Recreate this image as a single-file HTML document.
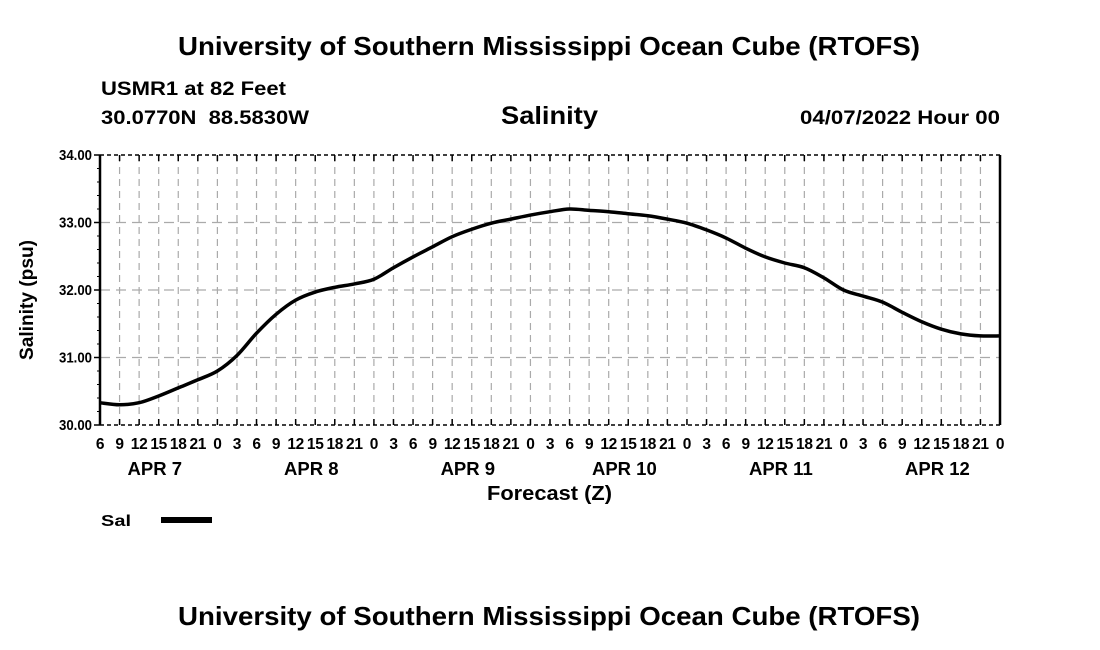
<!DOCTYPE html>
<html><head><meta charset="utf-8"><style>
body{margin:0;background:#fff;width:1100px;height:650px;overflow:hidden}
svg{display:block;font-family:"Liberation Sans",Arial,sans-serif;font-weight:bold}
</style></head><body>
<svg id="chart" width="1100" height="650">
<text x="178" y="55" font-size="26" textLength="742" lengthAdjust="spacingAndGlyphs">University of Southern Mississippi Ocean Cube (RTOFS)</text>
<text x="101" y="95" font-size="19" textLength="185" lengthAdjust="spacingAndGlyphs">USMR1 at 82 Feet</text>
<text x="101" y="124" font-size="19" textLength="208" lengthAdjust="spacingAndGlyphs" xml:space="preserve">30.0770N  88.5830W</text>
<text x="501" y="124" font-size="25" textLength="97" lengthAdjust="spacingAndGlyphs">Salinity</text>
<text x="800" y="124" font-size="19" textLength="200" lengthAdjust="spacingAndGlyphs">04/07/2022 Hour 00</text>
<g id="grid"></g>
<g id="axes"></g>
<path id="line" fill="none" stroke="#000" stroke-width="3.5"></path>
<text x="33" y="300" text-anchor="middle" font-size="19" textLength="120" lengthAdjust="spacingAndGlyphs" transform="rotate(-90 33 300)">Salinity (psu)</text>
<text x="487" y="500" font-size="20" textLength="125" lengthAdjust="spacingAndGlyphs">Forecast (Z)</text>
<text x="101" y="526" font-size="16" textLength="30" lengthAdjust="spacingAndGlyphs">Sal</text>
<rect x="161" y="517" width="51" height="6" fill="#000"></rect>
<text x="178" y="625" font-size="26" textLength="742" lengthAdjust="spacingAndGlyphs">University of Southern Mississippi Ocean Cube (RTOFS)</text>
</svg>
<script>
const hourLabels=["6","9","12","15","18","21","0","3","6","9","12","15","18","21","0","3","6","9","12","15","18","21","0","3","6","9","12","15","18","21","0","3","6","9","12","15","18","21","0","3","6","9","12","15","18","21","0"];
const salinity=[30.33,30.30,30.33,30.43,30.55,30.67,30.80,31.03,31.36,31.64,31.85,31.97,32.04,32.09,32.16,32.33,32.49,32.64,32.79,32.90,32.99,33.05,33.11,33.16,33.20,33.18,33.16,33.13,33.10,33.05,32.99,32.89,32.77,32.62,32.49,32.40,32.33,32.18,32.00,31.91,31.82,31.67,31.53,31.42,31.35,31.32,31.32];
const yTicks=[30,31,32,33,34];
const dayLabels=["APR 7","APR 8","APR 9","APR 10","APR 11","APR 12"];
const dayCenterIdx=[2.8,10.8,18.8,26.8,34.8,42.8];
const L=100,R=1000,T=155,B=425,ymin=30,ymax=34;
const n=hourLabels.length;
const xs=i=>L+(R-L)*i/(n-1);
const ys=v=>B-(B-T)*(v-ymin)/(ymax-ymin);
const NS="http://www.w3.org/2000/svg";
function mk(tag,attrs,parent,txt){const e=document.createElementNS(NS,tag);for(const k in attrs)e.setAttribute(k,attrs[k]);if(txt!==undefined)e.textContent=txt;parent.appendChild(e);return e;}
const grid=document.getElementById('grid'),axes=document.getElementById('axes');
for(let i=1;i<n-1;i++){const g=mk('line',{x1:xs(i),x2:xs(i),y1:T,y2:B,stroke:'#aaa','stroke-width':1.2,'stroke-dasharray':'7,5'},grid);

}
yTicks.forEach(v=>{if(v>ymin&&v<ymax){const g=mk('line',{x1:L,x2:R,y1:ys(v),y2:ys(v),stroke:'#aaa','stroke-width':1.2,'stroke-dasharray':'10,6'},grid);

}
const t=mk('text',{x:L-8,y:ys(v)+5,'text-anchor':'end','font-size':15,textLength:33,lengthAdjust:'spacingAndGlyphs'},axes,v.toFixed(2));


mk('line',{x1:L-6,x2:L,y1:ys(v),y2:ys(v),stroke:'#000','stroke-width':1.5},axes);});
for(let v=ymin;v<=ymax+1e-9;v+=0.2){mk('line',{x1:L-3,x2:L,y1:ys(v),y2:ys(v),stroke:'#000','stroke-width':1},axes);}
mk('line',{x1:L,x2:L,y1:T,y2:B,stroke:'#000','stroke-width':2.5},axes);
mk('line',{x1:R,x2:R,y1:T,y2:B,stroke:'#000','stroke-width':2.5},axes);
mk('line',{x1:L,x2:R,y1:T,y2:T,stroke:'#000','stroke-width':1.5,'stroke-dasharray':'4,3'},axes);
mk('line',{x1:L,x2:R,y1:B,y2:B,stroke:'#000','stroke-width':1.5,'stroke-dasharray':'4,3'},axes);
hourLabels.forEach((h,i)=>{mk('line',{x1:xs(i),x2:xs(i),y1:B,y2:B-6,stroke:'#000','stroke-width':1.5},axes);
mk('line',{x1:xs(i),x2:xs(i),y1:T,y2:T+6,stroke:'#000','stroke-width':1.5},axes);
const t=mk('text',{x:xs(i),y:B+24,'text-anchor':'middle','font-size':15.5,'letter-spacing':'-0.3'},axes,h);

});
dayLabels.forEach((d,k)=>{const t=mk('text',{x:xs(dayCenterIdx[k]),y:B+50,'text-anchor':'middle','font-size':18.5},axes,d);

});
const P=salinity.map((v,i)=>[xs(i),ys(v)]);
let d='M'+P[0][0]+','+P[0][1];
for(let i=0;i<P.length-1;i++){const p0=P[Math.max(0,i-1)],p1=P[i],p2=P[i+1],p3=P[Math.min(P.length-1,i+2)];
d+=' C'+(p1[0]+(p2[0]-p0[0])/6)+','+(p1[1]+(p2[1]-p0[1])/6)+' '+(p2[0]-(p3[0]-p1[0])/6)+','+(p2[1]-(p3[1]-p1[1])/6)+' '+p2[0]+','+p2[1];}
document.getElementById('line').setAttribute('d',d);
</script>
</body></html>
